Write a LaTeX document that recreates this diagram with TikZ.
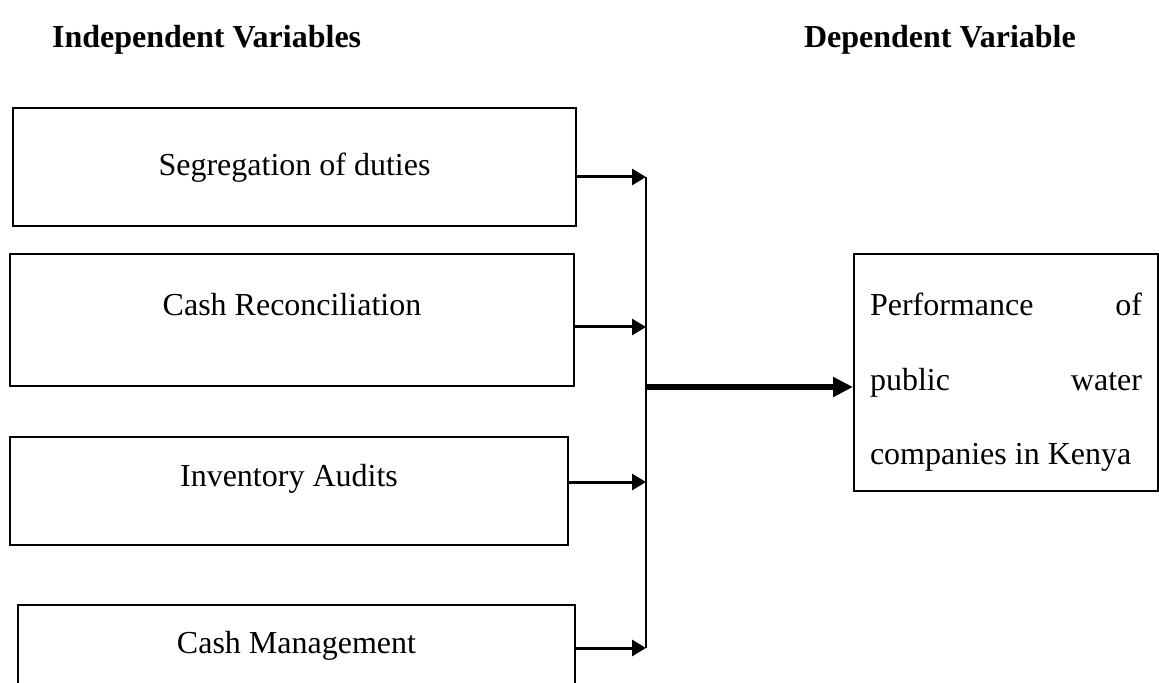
\documentclass[tikz,border=0pt]{standalone}
\usepackage{fontspec}
\setmainfont{Liberation Serif}
\usetikzlibrary{arrows.meta}

\begin{document}
\begin{tikzpicture}[x=0.5pt,y=-0.5pt,>={Triangle[length=7pt,width=8pt]},font=\fontsize{16}{19}\selectfont,
  box/.style={draw,line width=1pt,inner xsep=0pt,inner ysep=0pt,anchor=north west},
  head/.style={font=\fontsize{16}{19}\selectfont\bfseries,anchor=west},
  feed/.style={->,line width=1.5pt},
  main/.style={-{Triangle[length=10pt,width=9.5pt]},line width=3.2pt}]
\useasboundingbox (0,0) rectangle (1159,683);
\clip (0,0) rectangle (1159,683);
\node[head] (indep) at (45,40) {Independent Variables};
\node[head] (dep) at (797,40) {Dependent Variable};
\node[box,minimum width=281.5pt,text height=34pt,text depth=25pt] (seg) at (12,107) {Segregation of duties};
\node[box,minimum width=282pt,text height=31pt,text depth=35pt] (rec) at (9,253) {Cash Reconciliation};
\node[box,minimum width=279pt,text height=24.5pt,text depth=29.5pt] (inv) at (9,436) {Inventory Audits};
\node[box,minimum width=278.5pt,text height=24pt,text depth=40pt] (cash) at (17,604) {Cash Management};
\node[box,minimum width=152pt,inner xsep=8pt,inner ysep=10pt,text height=21pt,text width=136pt,align=justify,
  font=\fontsize{16}{37}\selectfont] (perf) at (853,253) {Performance \hfill of\\ public \hfill water\\ companies in Kenya};
\coordinate (j1) at (646,177);
\coordinate (j2) at (646,327);
\coordinate (j3) at (646,482);
\coordinate (j4) at (646,648);
\coordinate (jm) at (646,387);
\draw[line width=1pt] (j1) -- (j4);
\draw[feed] (seg.east |- j1) -- (j1);
\draw[feed] (rec.east |- j2) -- (j2);
\draw[feed] (inv.east |- j3) -- (j3);
\draw[feed] (cash.east |- j4) -- (j4);
\draw[main] (jm) -- (perf.west |- jm);
\end{tikzpicture}
\end{document}
